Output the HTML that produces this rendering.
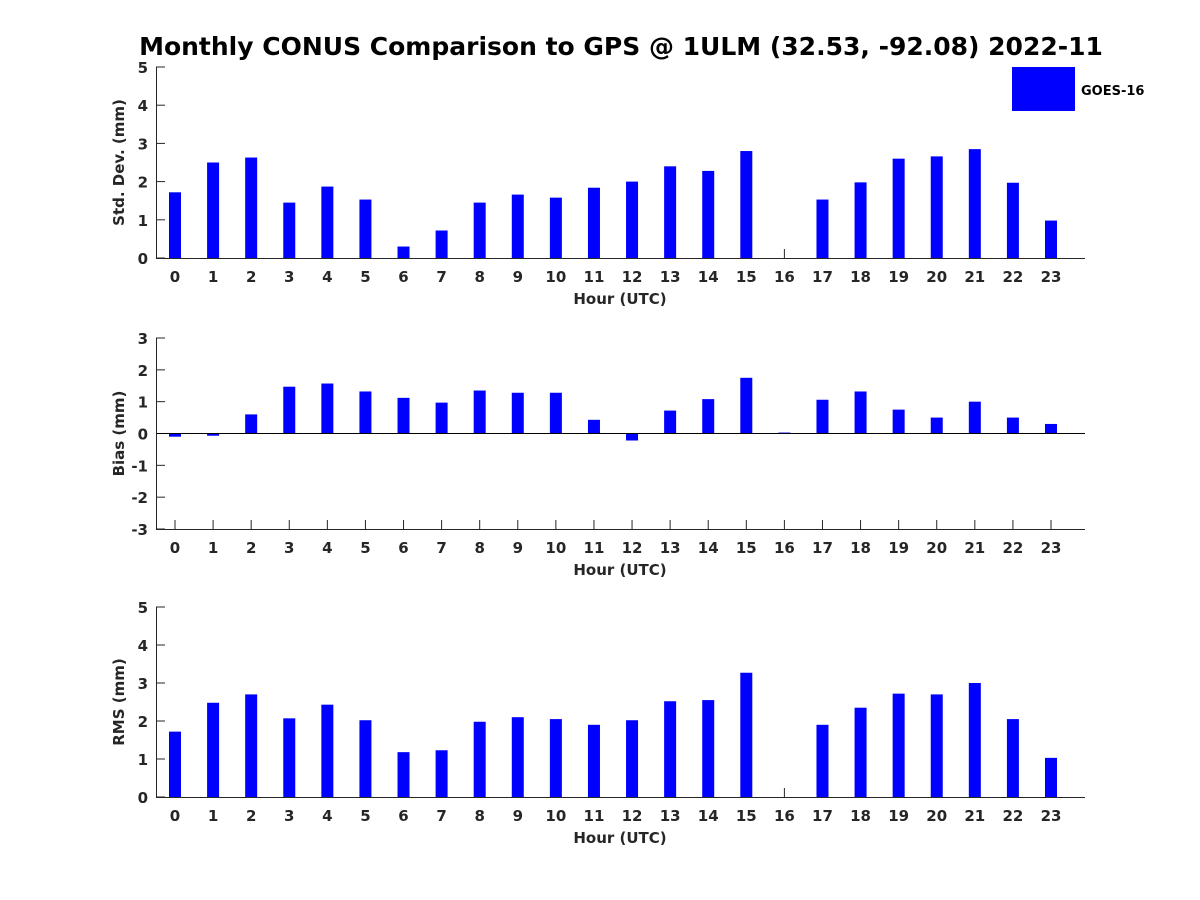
<!DOCTYPE html>
<html><head><meta charset="utf-8"><style>
body{margin:0;background:#fff}
svg{display:block}
text{font-family:"DejaVu Sans","Liberation Sans",sans-serif;font-weight:bold;fill:#262626}
</style></head><body>
<svg id="chart" width="1200" height="900" viewBox="0 0 1200 900">
<text x="621" y="55" font-size="25" text-anchor="middle" style="fill:#000">Monthly CONUS Comparison to GPS @ 1ULM (32.53, -92.08) 2022-11</text>
<g id="plots"></g>
<rect x="1012" y="67" width="63" height="44" fill="#0000ff"/>
<text x="1081" y="95" font-size="13" style="fill:#000">GOES-16</text>
</svg>
<script>
const hours=[0,1,2,3,4,5,6,7,8,9,10,11,12,13,14,15,16,17,18,19,20,21,22,23];
const stdValues=[1.72,2.5,2.63,1.45,1.87,1.53,0.3,0.72,1.45,1.66,1.58,1.84,2.0,2.4,2.28,2.8,0,1.53,1.98,2.6,2.66,2.85,1.97,0.98];
const biasValues=[-0.1,-0.07,0.6,1.47,1.57,1.32,1.12,0.97,1.35,1.28,1.28,0.43,-0.22,0.72,1.08,1.75,0.03,1.06,1.32,0.75,0.5,1.0,0.5,0.3];
const rmsValues=[1.72,2.48,2.7,2.07,2.43,2.02,1.18,1.23,1.98,2.1,2.05,1.9,2.02,2.52,2.55,3.27,0,1.9,2.35,2.72,2.7,3.0,2.05,1.03];
const stdTicks=[0,1,2,3,4,5];
const biasTicks=[-3,-2,-1,0,1,2,3];
const rmsTicks=[0,1,2,3,4,5];
const NS="http://www.w3.org/2000/svg";
const g=document.getElementById('plots');
function mk(tag,attrs,parent){const e=document.createElementNS(NS,tag);for(const k in attrs)e.setAttribute(k,attrs[k]);(parent||g).appendChild(e);return e;}
function panel(name,vals,ticks,ymin,ymax,top,bottom,ylabel){
  const L=156,R=1085;
  const x=h=>175+(h-0)*(1051-175)/23;
  const y=v=>bottom-(v-ymin)/(ymax-ymin)*(bottom-top);
  const pg=mk('g',{});
  
  
  hours.forEach(h=>{
    mk('line',{x1:x(h),x2:x(h),y1:bottom,y2:bottom-9,stroke:'#262626','stroke-width':1},pg);
    const t=mk('text',{x:x(h),y:bottom+24,'font-size':15,'text-anchor':'middle'},pg);
    t.textContent=h;
    
    
  });
  vals.forEach((v,i)=>{
    const y1=y(v), yz=y(0);
    const r=mk('rect',{x:x(hours[i])-6,y:Math.min(yz,y1),width:12,height:Math.max(0.1,Math.abs(yz-y1)),fill:'#0000ff'},pg);
    
    
  });
  ticks.forEach(v=>{
    mk('line',{x1:L,x2:L+9,y1:y(v),y2:y(v),stroke:'#262626','stroke-width':1},pg);
    const t=mk('text',{x:L-8,y:y(v)+6,'font-size':15,'text-anchor':'end'},pg);
    t.textContent=v;
    
    
  });
  if(ymin<0) mk('line',{x1:L,x2:R,y1:y(0),y2:y(0),stroke:'#000','stroke-width':1},pg);
  mk('line',{x1:L,x2:R,y1:bottom+0.5,y2:bottom+0.5,stroke:'#262626','stroke-width':1},pg);
  mk('line',{x1:L+0.5,x2:L+0.5,y1:top,y2:bottom,stroke:'#262626','stroke-width':1},pg);
  const xl=mk('text',{x:620,y:bottom+46,'font-size':15,'text-anchor':'middle'},pg);
  xl.textContent='Hour (UTC)';
  
  
  const cy=(top+bottom)/2;
  const yl=mk('text',{x:124,y:cy,'font-size':15,'text-anchor':'middle',transform:'rotate(-90 124 '+cy+')'},pg);
  yl.textContent=ylabel;
  
  
}
panel('std',stdValues,stdTicks,0,5,67,258,'Std. Dev. (mm)');
panel('bias',biasValues,biasTicks,-3,3,338,529,'Bias (mm)');
panel('rms',rmsValues,rmsTicks,0,5,607,797,'RMS (mm)');
</script>
</body></html>
